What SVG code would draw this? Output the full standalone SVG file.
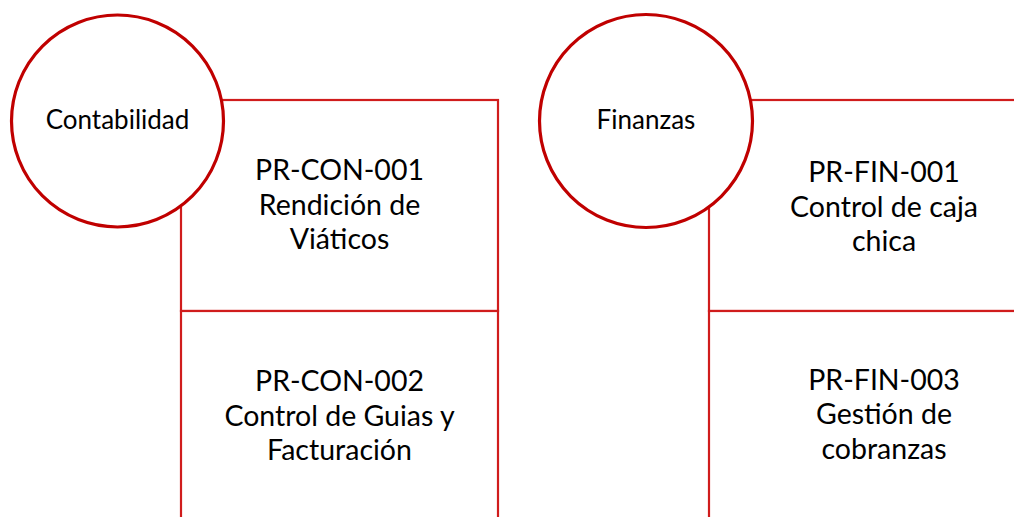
<svg xmlns="http://www.w3.org/2000/svg" width="1014" height="517" viewBox="0 0 1014 517">
<style>
.box{fill:#FFFFFF;stroke:#D01C1C;stroke-width:2.2}
.circ{fill:#FFFFFF;stroke:#C00000;stroke-width:3.2}
.lbl{font-family:Lato,"Liberation Sans",sans-serif;font-size:28.5px;fill:#000000;text-anchor:middle}
.clbl{font-family:Lato,"Liberation Sans",sans-serif;font-size:26px;fill:#000000;text-anchor:middle}
</style>
<rect width="1014" height="517" fill="#FFFFFF"/>
<g id="connectors"></g>
<g id="con-001">
<rect class="box" x="181" y="100" width="317" height="211"/>
<text class="lbl" x="339.5" y="180">PR-CON-001</text>
<text class="lbl" x="339.5" y="215">Rendición de</text>
<text class="lbl" x="339.5" y="249">Viáticos</text>
</g>
<g id="con-002">
<rect class="box" x="181" y="311" width="317" height="230"/>
<text class="lbl" x="339.5" y="391">PR-CON-002</text>
<text class="lbl" x="339.5" y="426">Control de Guias y</text>
<text class="lbl" x="339.5" y="460">Facturación</text>
</g>
<g id="contabilidad">
<circle class="circ" cx="117.5" cy="121" r="106"/>
<text class="clbl" x="117.5" y="129">Contabilidad</text>
</g>
<g id="fin-001">
<rect class="box" x="709" y="100" width="350" height="211"/>
<text class="lbl" x="884" y="182">PR-FIN-001</text>
<text class="lbl" x="884" y="217">Control de caja</text>
<text class="lbl" x="884" y="251">chica</text>
</g>
<g id="fin-003">
<rect class="box" x="709" y="311" width="350" height="230"/>
<text class="lbl" x="884" y="390">PR-FIN-003</text>
<text class="lbl" x="884" y="424">Gestión de</text>
<text class="lbl" x="884" y="459">cobranzas</text>
</g>
<g id="finanzas">
<circle class="circ" cx="646" cy="121" r="106.5"/>
<text class="clbl" x="646" y="129">Finanzas</text>
</g>
</svg>
